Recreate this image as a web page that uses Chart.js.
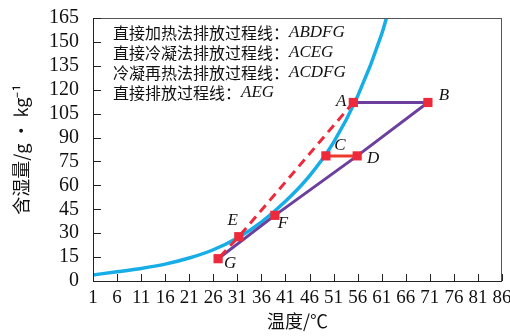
<!DOCTYPE html>
<html>
<head>
<meta charset="utf-8">
<script src="https://cdn.jsdelivr.net/npm/chart.js@4/dist/chart.umd.min.js"></script>
<style>
  html, body { margin: 0; padding: 0; background: #fff; }
  #wrap { width: 510px; height: 336px; }
</style>
</head>
<body>
<div id="wrap"><canvas id="myChart" width="510" height="336"></canvas></div>
<script>
// saturation curve
var satTemp = [1, 6, 11, 16, 21, 26, 31, 36, 41, 46, 51, 56, 61, 63];
var satMoist = [3.8, 5.8, 7.9, 10.6, 14.4, 19.6, 27, 37, 50, 66, 87, 116, 155, 176];

// process points
var ptName = ['A', 'B', 'C', 'D', 'E', 'F', 'G'];
var ptTemp = [55.1, 70.6, 49.4, 55.9, 31.3, 38.8, 27.0];
var ptMoist = [112, 112, 78.5, 78.5, 27.8, 41.2, 14.0];

// line paths (by point name)
var purplePath = ['A', 'B', 'D', 'F', 'G'];
var redPath = ['C', 'D'];
var dashPath = ['A', 'E', 'G'];

var legendCn = ['直接加热法排放过程线：', '直接冷凝法排放过程线：', '冷凝再热法排放过程线：', '直接排放过程线：'];
var legendEn = ['ABDFG', 'ACEG', 'ACDFG', 'AEG'];

var xTitle = '温度/℃';
var yTitle = '含湿量/g · kg⁻¹';

function pt(name) {
    var i = ptName.indexOf(name);
    return { x: ptTemp[i], y: ptMoist[i] };
}

var satData = [];
for (var i = 0; i < satTemp.length; i++) {
    satData.push({ x: satTemp[i], y: satMoist[i] });
}
var markData = [];
for (i = 0; i < ptName.length; i++) {
    markData.push({ x: ptTemp[i], y: ptMoist[i] });
}

// label offsets next to each marker (pixels)
var labelOff = { A: [-12, -1], B: [16, -7], C: [14, -10], D: [16, 3], E: [-6, -16], F: [8, 8], G: [12, 5] };

var innerTicks = {
    id: 'innerTicks',
    afterDraw: function(chart) {
        var c = chart.ctx, a = chart.chartArea;
        c.save();
        c.strokeStyle = '#555';
        c.lineWidth = 1;
        c.strokeRect(a.left + 0.5, a.top + 0.5, a.right - a.left - 1, a.bottom - a.top);
        c.strokeStyle = '#222';
        c.beginPath();
        c.moveTo(a.left + 0.5, a.top);
        c.lineTo(a.left + 0.5, a.bottom + 0.5);
        c.lineTo(a.right, a.bottom + 0.5);
        c.stroke();
        var xs = chart.scales.x, ys = chart.scales.y;
        c.beginPath();
        xs.ticks.forEach(function(t) {
            var px = Math.round(xs.getPixelForValue(t.value)) + 0.5;
            c.moveTo(px, a.bottom);
            c.lineTo(px, a.bottom - 7);
        });
        ys.ticks.forEach(function(t) {
            var py = Math.round(ys.getPixelForValue(t.value)) + 0.5;
            c.moveTo(a.left, py);
            c.lineTo(a.left + 8, py);
        });
        c.stroke();

        // point letters
        c.fillStyle = '#111';
        c.font = 'italic 17px "Liberation Serif"';
        c.textAlign = 'center';
        c.textBaseline = 'middle';
        var meta = chart.getDatasetMeta(0);
        meta.data.forEach(function(el, k) {
            var o = labelOff[ptName[k]];
            c.fillText(ptName[k], el.x + o[0], el.y + o[1]);
        });

        // legend text box
        c.textAlign = 'left';
        for (var r = 0; r < legendCn.length; r++) {
            var y = 33 + r * 20;
            c.font = '16px "Noto Sans CJK SC"';
            c.fillText(legendCn[r], 113, y);
            var w = c.measureText(legendCn[r]).width;
            c.font = 'italic 17px "Liberation Serif"';
            c.fillText(legendEn[r], 113 + w, y);
        }
        c.restore();
    }
};

var lineDs = function(data, color, width, dash, order) {
    return {
        data: data,
        borderColor: color,
        borderWidth: width,
        borderDash: dash,
        pointRadius: 0,
        fill: false,
        tension: 0,
        order: order
    };
};

var ctx = document.getElementById('myChart').getContext('2d');
var myChart = new Chart(ctx, {
    type: 'line',
    data: {
        datasets: [{
            data: markData,
            showLine: false,
            pointStyle: 'rect',
            pointRadius: 6.5,
            pointBackgroundColor: '#ec2a3c',
            pointBorderWidth: 0,
            order: 0
        },
            lineDs(dashPath.map(pt), '#ec2a3c', 3, [9, 6], 1),
            lineDs(redPath.map(pt), '#ee3a2a', 3, [], 2),
            lineDs(purplePath.map(pt), '#6c3f9e', 3, [], 3),
        {
            data: satData,
            borderColor: '#17ade6',
            borderWidth: 3.5,
            pointRadius: 0,
            fill: false,
            cubicInterpolationMode: 'monotone',
            order: 4
        }]
    },
    options: {
        responsive: false,
        animation: false,
        layout: { padding: { top: 17, right: 8, left: 10, bottom: 0 } },
        plugins: { legend: { display: false }, tooltip: { enabled: false } },
        scales: {
            x: {
                type: 'linear',
                min: 1,
                max: 86,
                ticks: { stepSize: 5, color: '#111', font: { family: 'Liberation Serif', size: 19 }, padding: -2, maxRotation: 0, autoSkip: false },
                grid: { display: false },
                border: { display: false },
                title: { display: true, text: xTitle, color: '#111', font: { family: 'Noto Sans CJK SC', size: 18 }, padding: { top: 6 } },
                afterFit: function(s) { s.height = 55; }
            },
            y: {
                min: 0,
                max: 165,
                ticks: { stepSize: 15, color: '#111', font: { family: 'Liberation Serif', size: 20 }, padding: 6, autoSkip: false },
                grid: { display: false },
                border: { display: false },
                title: { display: true, text: yTitle, color: '#111', font: { family: 'Noto Sans CJK SC', size: 18 }, padding: 0 },
                afterFit: function(s) { s.width = 83; }
            }
        }
    },
    plugins: [innerTicks]
});
</script>
</body>
</html>
